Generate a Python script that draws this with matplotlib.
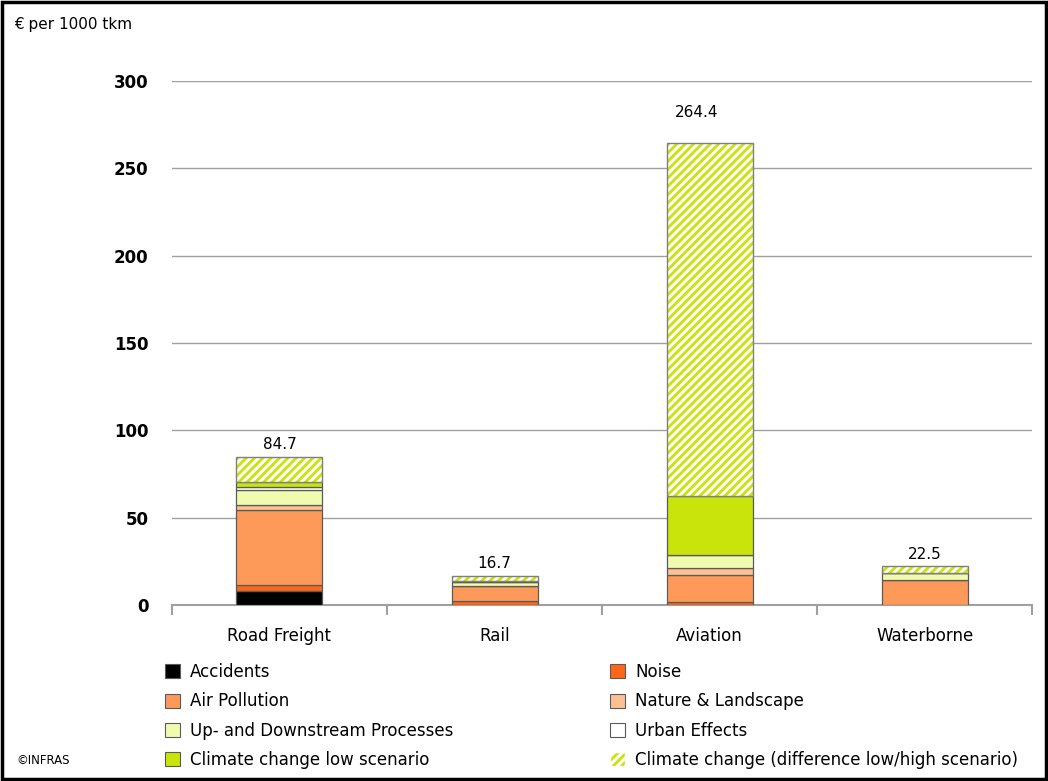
import numpy as np
import matplotlib.pyplot as plt
from matplotlib.patches import Patch, Rectangle

plt.rcParams["font.family"] = ["DejaVu Sans"]
plt.rcParams["hatch.linewidth"] = 2.2

# Categories and cost components (EUR per 1000 tkm)
modes = ["Road Freight", "Rail", "Aviation", "Waterborne"]
totals = [84.7, 16.7, 264.4, 22.5]

accidents = [7.9, 0.2, 0.0, 0.0]
noise = [3.7, 2.0, 1.9, 0.0]
air_pollution = [42.9, 8.6, 15.3, 14.3]
nature = [2.5, 0.3, 3.8, 0.2]
up_down = [8.6, 2.0, 7.6, 3.6]
urban = [1.9, 0.3, 0.0, 0.0]
climate_low = [3.1, 0.6, 34.0, 0.3]
climate_diff = [14.1, 2.7, 201.8, 4.1]

labels = ["Accidents", "Noise", "Air Pollution", "Nature & Landscape",
          "Up- and Downstream Processes", "Urban Effects",
          "Climate change low scenario",
          "Climate change (difference low/high scenario)"]
colors = ["#000000", "#ff6619", "#fd9a5a", "#fcc192",
          "#f1fbb0", "#ffffff", "#c8e40a", "#c8e40a"]

series = [accidents, noise, air_pollution, nature, up_down, urban,
          climate_low, climate_diff]

fig = plt.figure(figsize=(10.48, 7.81), dpi=100)
ax = fig.add_axes([0.164, 0.2254, 0.821, 0.671])

x = np.arange(len(modes))
width = 0.4
bottom = np.zeros(len(modes))
for vals, col, lab in zip(series, colors, labels):
    vals = np.array(vals)
    if lab.startswith("Climate change (diff"):
        ax.bar(x, vals, width, bottom=bottom, color=col, edgecolor="white",
               hatch="////", linewidth=0, zorder=3)
        ax.bar(x, vals, width, bottom=bottom, fill=False,
               edgecolor="#7f7f7f", linewidth=1, zorder=4)
    else:
        ax.bar(x, vals, width, bottom=bottom, color=col,
               edgecolor="#5a5a5a", linewidth=0.9, zorder=3)
    bottom += vals

# total labels above the bars
label_offsets = [3, 3, 13, 2]
label_dx = [0, 0, -0.06, 0]
for i, t in enumerate(totals):
    ax.text(x[i] + label_dx[i], t + label_offsets[i], f"{t:.1f}",
            ha="center", va="bottom", fontsize=11)

ax.set_xlim(-0.5, len(modes) - 0.5)
ax.set_ylim(0, 300)
ax.set_yticks([0, 50, 100, 150, 200, 250, 300])
ax.set_yticklabels(["0", "50", "100", "150", "200", "250", "300"],
                   fontweight="bold", fontsize=12)
ax.set_xticks(x)
ax.set_xticklabels(modes, fontsize=12)
ax.set_xticks(np.arange(-0.5, len(modes)), minor=True)
ax.tick_params(axis="x", which="major", length=0, pad=16)
ax.tick_params(axis="x", which="minor", length=7, color="#a0a0a0", width=1.5)
ax.tick_params(axis="y", length=0, pad=17)

ax.yaxis.grid(True, color="#a0a0a0", linewidth=1)
ax.set_axisbelow(True)
for s in ["top", "right", "left"]:
    ax.spines[s].set_visible(False)
ax.spines["bottom"].set_color("#a0a0a0")
ax.spines["bottom"].set_linewidth(1.5)

fig.text(14 / 1048, 1 - 25 / 781, "€ per 1000 tkm", fontsize=11,
         ha="left", va="center")
fig.text(16 / 1048, 1 - 760 / 781, "©INFRAS", fontsize=8.5,
         ha="left", va="center")

# legend, two columns
handles = []
for col, lab in zip(colors, labels):
    if lab.startswith("Climate change (diff"):
        handles.append(Patch(facecolor=col, edgecolor="white", hatch="////",
                             label=lab))
    else:
        handles.append(Patch(facecolor=col, edgecolor="#5a5a5a",
                             linewidth=0.8, label=lab))
order = [0, 2, 4, 6, 1, 3, 5, 7]
fig.legend([handles[i] for i in order], [labels[i] for i in order],
           ncol=2, loc="upper left", bbox_to_anchor=(150 / 1048, 1 - 648 / 781),
           frameon=False, fontsize=12, handlelength=0.9, handleheight=0.9,
           handletextpad=0.6, columnspacing=9.4, labelspacing=0.68)

fig.patches.append(Rectangle((0.002, 0.003), 0.996, 0.994, transform=fig.transFigure,
                             fill=False, edgecolor="black", linewidth=2.5))

fig.savefig("out.png", dpi=100)
